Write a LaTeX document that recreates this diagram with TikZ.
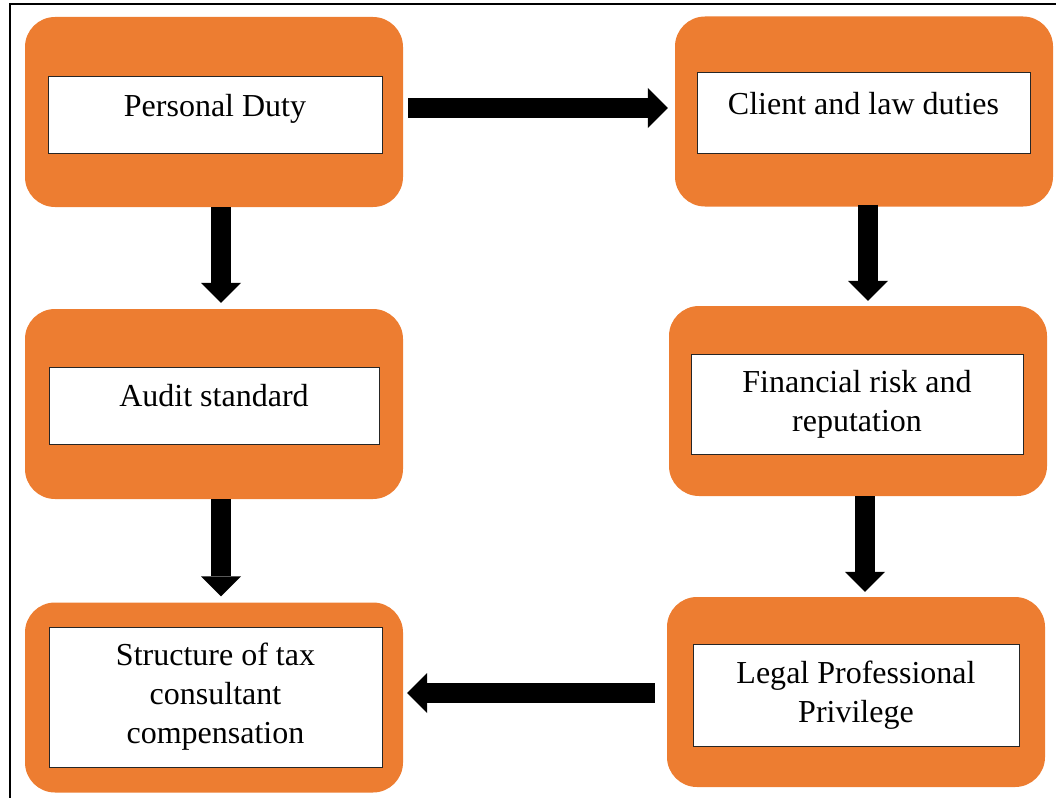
\documentclass[tikz,border=0pt]{standalone}
\usepackage{fontspec}
\setmainfont{Liberation Serif}
\usetikzlibrary{arrows.meta}
\definecolor{boxorange}{HTML}{ED7D31}
\begin{document}
\begin{tikzpicture}[x=1pt, y=-1pt]
        \tikzstyle{outer}=[rectangle, rounded corners=30pt, fill=boxorange, minimum width=378pt, minimum height=190pt];
        \tikzstyle{inner}=[rectangle, draw=black!85, line width=1pt, fill=white, align=center, font=\fontsize{32}{39}\selectfont];
        \tikzstyle{oneline}=[text depth=20pt];
        \tikzstyle{blockarrow}=[line width=20pt, -{Triangle[width=40pt, length=20pt, line width=0pt]}];
        \useasboundingbox (0,0) rectangle (1056,797);
        \draw[line width=1.5pt] (10,4) rectangle (1062,803);
        % orange frames
        \node[outer] (pdframe) at (214,112) {};
        \node[outer] (clframe) at (864,111.5) {};
        \node[outer] (asframe) at (214,404) {};
        \node[outer] (frframe) at (858,401) {};
        \node[outer] (scframe) at (214,697.5) {};
        \node[outer] (lpframe) at (856,692) {};
        % white boxes with the texts
        \node[inner, oneline, minimum width=334pt, minimum height=76pt] (pd) at (215,115) {Personal Duty};
        \node[inner, oneline, minimum width=333pt, minimum height=80pt] (cl) at (863.5,113) {Client and law duties};
        \node[inner, oneline, minimum width=330pt, minimum height=77pt] (as) at (214,405.5) {Audit standard};
        \node[inner, minimum width=332pt, minimum height=100pt] (fr) at (857,404) {Financial risk and\\reputation};
        \node[inner, minimum width=333pt, minimum height=140pt] (sc) at (215.5,697) {Structure of tax\\consultant\\compensation};
        \node[inner, minimum width=326pt, minimum height=102pt] (lp) at (856,695) {Legal Professional\\Privilege};
        % arrows
        \draw[blockarrow, shorten <=5pt, shorten >=7pt] ([yshift=4pt]pdframe.east) -- ([yshift=4pt]pdframe.east -| clframe.west);
        \draw[blockarrow, shorten >=6pt] ([xshift=7pt]pdframe.south) -- ([xshift=7pt]asframe.north);
        \draw[blockarrow, shorten >=6pt] ([xshift=7pt]asframe.south) -- ([xshift=7pt]scframe.north);
        \draw[blockarrow, shorten <=-2pt, shorten >=5pt] ([xshift=4pt]clframe.south) -- ([xshift=4pt]clframe.south |- frframe.north);
        \draw[blockarrow, shorten >=5pt] ([xshift=7pt]frframe.south) -- ([xshift=7pt]frframe.south |- lpframe.north);
        \draw[blockarrow, shorten <=12pt, shorten >=4pt] ([yshift=-1pt]lpframe.west) -- ([yshift=-1pt]lpframe.west -| scframe.east);
\end{tikzpicture}
\end{document}
